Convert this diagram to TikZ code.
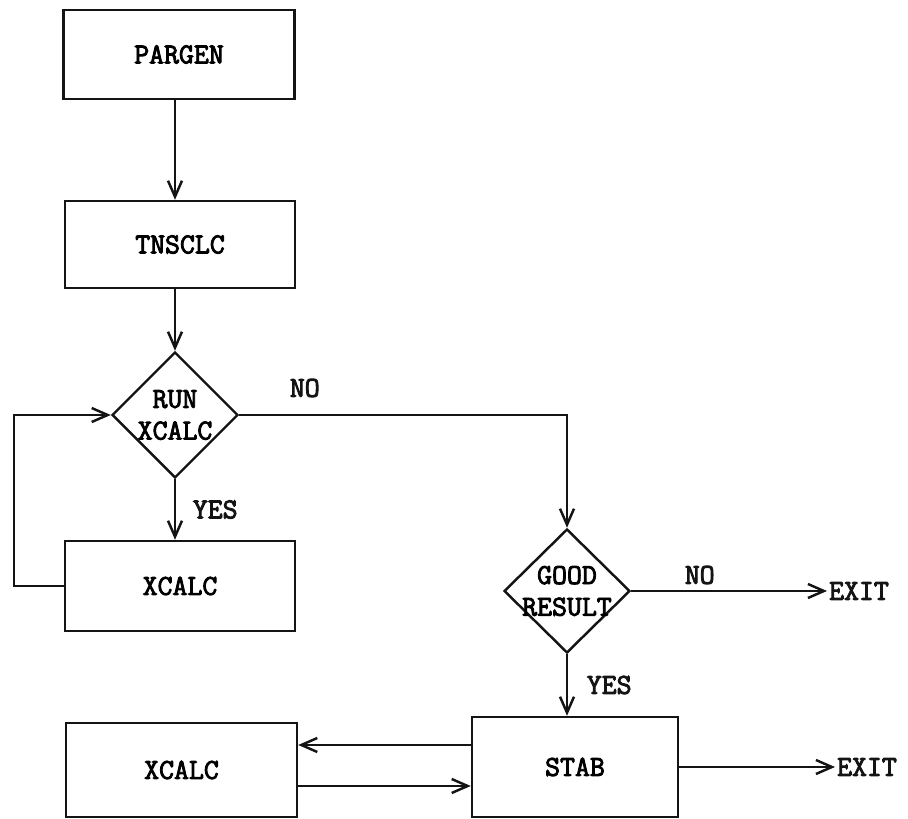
\documentclass[tikz,border=0pt]{standalone}
\usepackage{fontspec}
\newfontfamily\flowfam{Latin Modern Mono}[FakeBold=3]
\usepackage{tikz}
\usetikzlibrary{shapes.geometric, arrows.meta, positioning, calc}
\definecolor{inkdark}{RGB}{20,20,20}
\newcommand{\flowfont}{\fontsize{16.5}{18}\selectfont\flowfam}
\tikzset{
  box/.style={rectangle, draw=inkdark, line width=1.4pt,
    font=\flowfont, align=center, inner sep=0pt},
  decision/.style={diamond, draw=inkdark, line width=1.4pt,
    font=\flowfont, align=center, inner sep=-3pt,
    minimum width=2.52cm, minimum height=2.52cm},
  arrow/.style={-{Straight Barb[length=3.2mm, width=2.8mm, line width=1.4pt]},
    line width=1.2pt, color=inkdark},
  line/.style={line width=1.2pt, color=inkdark},
  lbl/.style={font=\flowfont, color=inkdark, inner sep=1pt}
}

\begin{document}
\begin{tikzpicture}
  \useasboundingbox (0,0) rectangle (18.16,-16.38);

  % Main column
  \node[box, minimum width=4.62cm, minimum height=1.78cm] (pargen) at (3.58,-1.09) {PARGEN};
  \node[box, minimum width=4.6cm, minimum height=1.74cm] (tnsclc) at (3.6,-4.89) {TNSCLC};
  \node[decision] (runx) at (3.5,-8.3) {RUN\\XCALC};
  \node[box, minimum width=4.6cm, minimum height=1.8cm] (xcalcA) at (3.6,-11.72) {XCALC};

  % Result check and stability
  \node[decision, minimum height=2.48cm] (good) at (11.34,-11.82) {GOOD\\RESULT};
  \node[box, minimum width=4.12cm, minimum height=2.0cm] (stab) at (11.5,-15.34) {STAB};
  \node[box, minimum width=4.62cm, minimum height=1.88cm] (xcalcB) at (3.63,-15.4) {XCALC};
  \node[lbl, anchor=west] (exitA) at (16.54,-11.82) {EXIT};
  \node[lbl, anchor=west] (exitB) at (16.7,-15.34) {EXIT};

  % Connections
  \draw[arrow] (pargen.south -| runx.north) -- (tnsclc.north -| runx.north);
  \draw[arrow] (tnsclc.south -| runx.north) -- (runx.north);
  \draw[arrow] (runx.south) -- node[lbl, right=0.3cm] {YES} (runx.south |- xcalcA.north);
  \draw[arrow] (xcalcA.west) -- ++(-1.0,0) |- (runx.west);
  \draw[arrow] (runx.east) -| node[lbl, pos=0.1, above=0.3cm] {NO} (good.north);
  \draw[arrow] (good.east) -- node[lbl, pos=0.35, above=0.08cm] {NO} (exitA.west);
  \draw[arrow] (good.south) -- node[lbl, right=0.34cm] {YES} (good.south |- stab.north);
  \draw[arrow] ([yshift=0.44cm]stab.west) -- ([yshift=0.44cm]stab.west -| xcalcB.east);
  \draw[arrow] ([yshift=-0.38cm]stab.west -| xcalcB.east) -- ([yshift=-0.38cm]stab.west);
  \draw[arrow] (stab.east) -- (exitB.west);
\end{tikzpicture}
\end{document}
